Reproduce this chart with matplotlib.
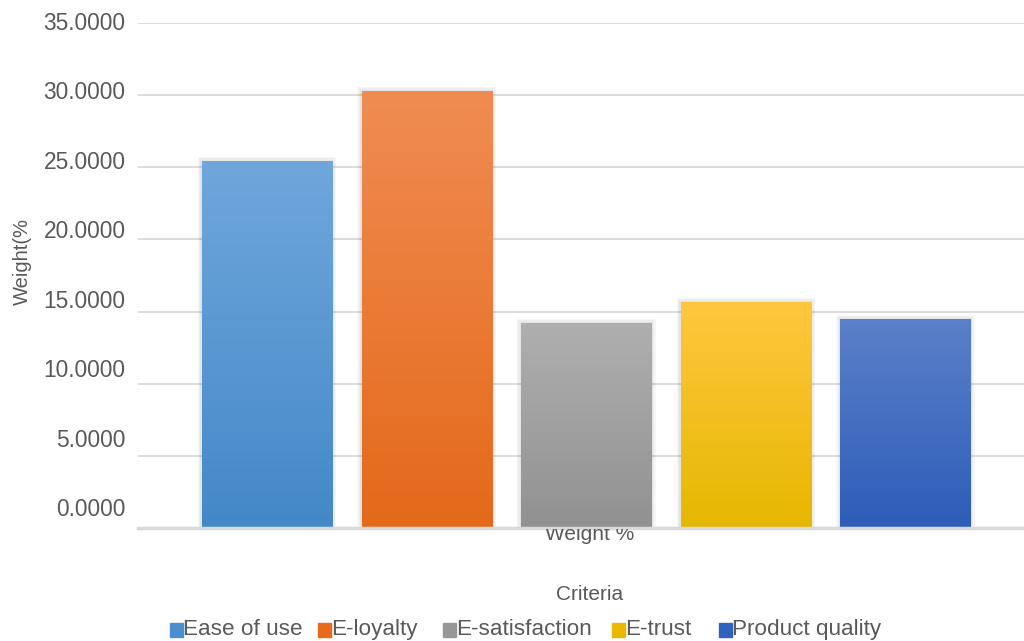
import numpy as np
import matplotlib
matplotlib.use("Agg")
import matplotlib.pyplot as plt
from matplotlib.colors import LinearSegmentedColormap
from matplotlib.patches import Rectangle
from matplotlib.transforms import Bbox

criteria = ["Ease of use", "E-loyalty", "E-satisfaction", "E-trust", "Product quality"]
weights = [25.42, 30.27, 14.19, 15.64, 14.47]
category = "Weight %"
yticks = [0, 5, 10, 15, 20, 25, 30, 35]

top_cols = ["#6FA7DC", "#F08C52", "#AFAFAF", "#FFC73F", "#5B80C9"]
bot_cols = ["#4488C8", "#E4691A", "#919191", "#E6B700", "#2D5DB8"]
legend_cols = ["#4A90D0", "#E96A1C", "#979797", "#EBB800", "#2F61BE"]

plt.rcParams['font.family'] = ['Liberation Sans', 'DejaVu Sans']
txt = "#595959"
W, H = 1024, 641

fig = plt.figure(figsize=(W / 100, H / 100), dpi=100)
ax = fig.add_axes([138/W, 113/H, 886/W, 505/H])

x = np.arange(len(criteria))
w = 0.815
bars = ax.bar(x, weights, width=w, color="none", zorder=3)

grad = np.linspace(0, 1, 256).reshape(-1, 1)
for i, b in enumerate(bars):
    x0, h = b.get_x(), b.get_height()
    # soft shadow around the bar
    for k in [0.027, 0.018, 0.009]:
        ax.add_patch(Rectangle((x0 - k, 0), w + 2 * k, h + k * 12, color="black",
                               alpha=0.035, lw=0, zorder=2))
    cmap = LinearSegmentedColormap.from_list("g%d" % i, [bot_cols[i], top_cols[i]])
    im = ax.imshow(grad, cmap=cmap, origin="lower", extent=[x0, x0 + w, 0, h],
                   aspect="auto", zorder=3)
    im.set_clip_path(b)

ax.set_xlim(-0.808, 4.742)
ax.set_ylim(0, 35)
ax.set_yticks(yticks)
ax.set_yticklabels([])
ax.set_xticks([])
ax.yaxis.grid(True, color="#D9D9D9", lw=1.3, zorder=0)
ax.set_axisbelow(True)
for s in ["top", "right", "left"]:
    ax.spines[s].set_visible(False)
ax.spines["bottom"].set_color("#D9D9D9")
ax.spines["bottom"].set_linewidth(2.5)
ax.spines["bottom"].set_zorder(4)
ax.tick_params(axis="y", length=0)

# tick labels sit on their own (slightly tighter) scale, as in the original
lab = fig.add_axes([138/W, (H - 507)/H, 886/W, 486/H])
lab.set_ylim(0, 35)
lab.set_yticks(yticks)
lab.set_yticklabels(["%.4f" % v for v in yticks])
lab.set_xticks([])
lab.patch.set_visible(False)
for s in lab.spines.values():
    s.set_visible(False)
lab.tick_params(axis="y", length=0, pad=9, labelsize=16.4, labelcolor=txt)

fig.text(22/W, 1 - 261/H, "Weight(%", rotation=90, ha="center", va="center",
         fontsize=14.5, color=txt)

t = fig.text(590/W, 1 - 540/H, category, ha="center", va="baseline",
             fontsize=15, color=txt)
t.set_clip_box(Bbox.from_extents(0, 0, W, H - 529))
t.set_clip_on(True)

fig.text(590/W, 1 - 594/H, "Criteria", ha="center", va="center",
         fontsize=15, color=txt)

# legend entries
leg_x = [170, 318, 443, 612, 719]
for lx, name, c in zip(leg_x, criteria, legend_cols):
    fig.patches.append(Rectangle((lx/W, (H - 637)/H), 13/W, 14/H, color=c,
                                 transform=fig.transFigure, figure=fig))
    fig.text((lx + 13)/W, 1 - 629.5/H, name, ha="left", va="center",
             fontsize=16.2, color=txt)

fig.savefig("out.png", dpi=100)
